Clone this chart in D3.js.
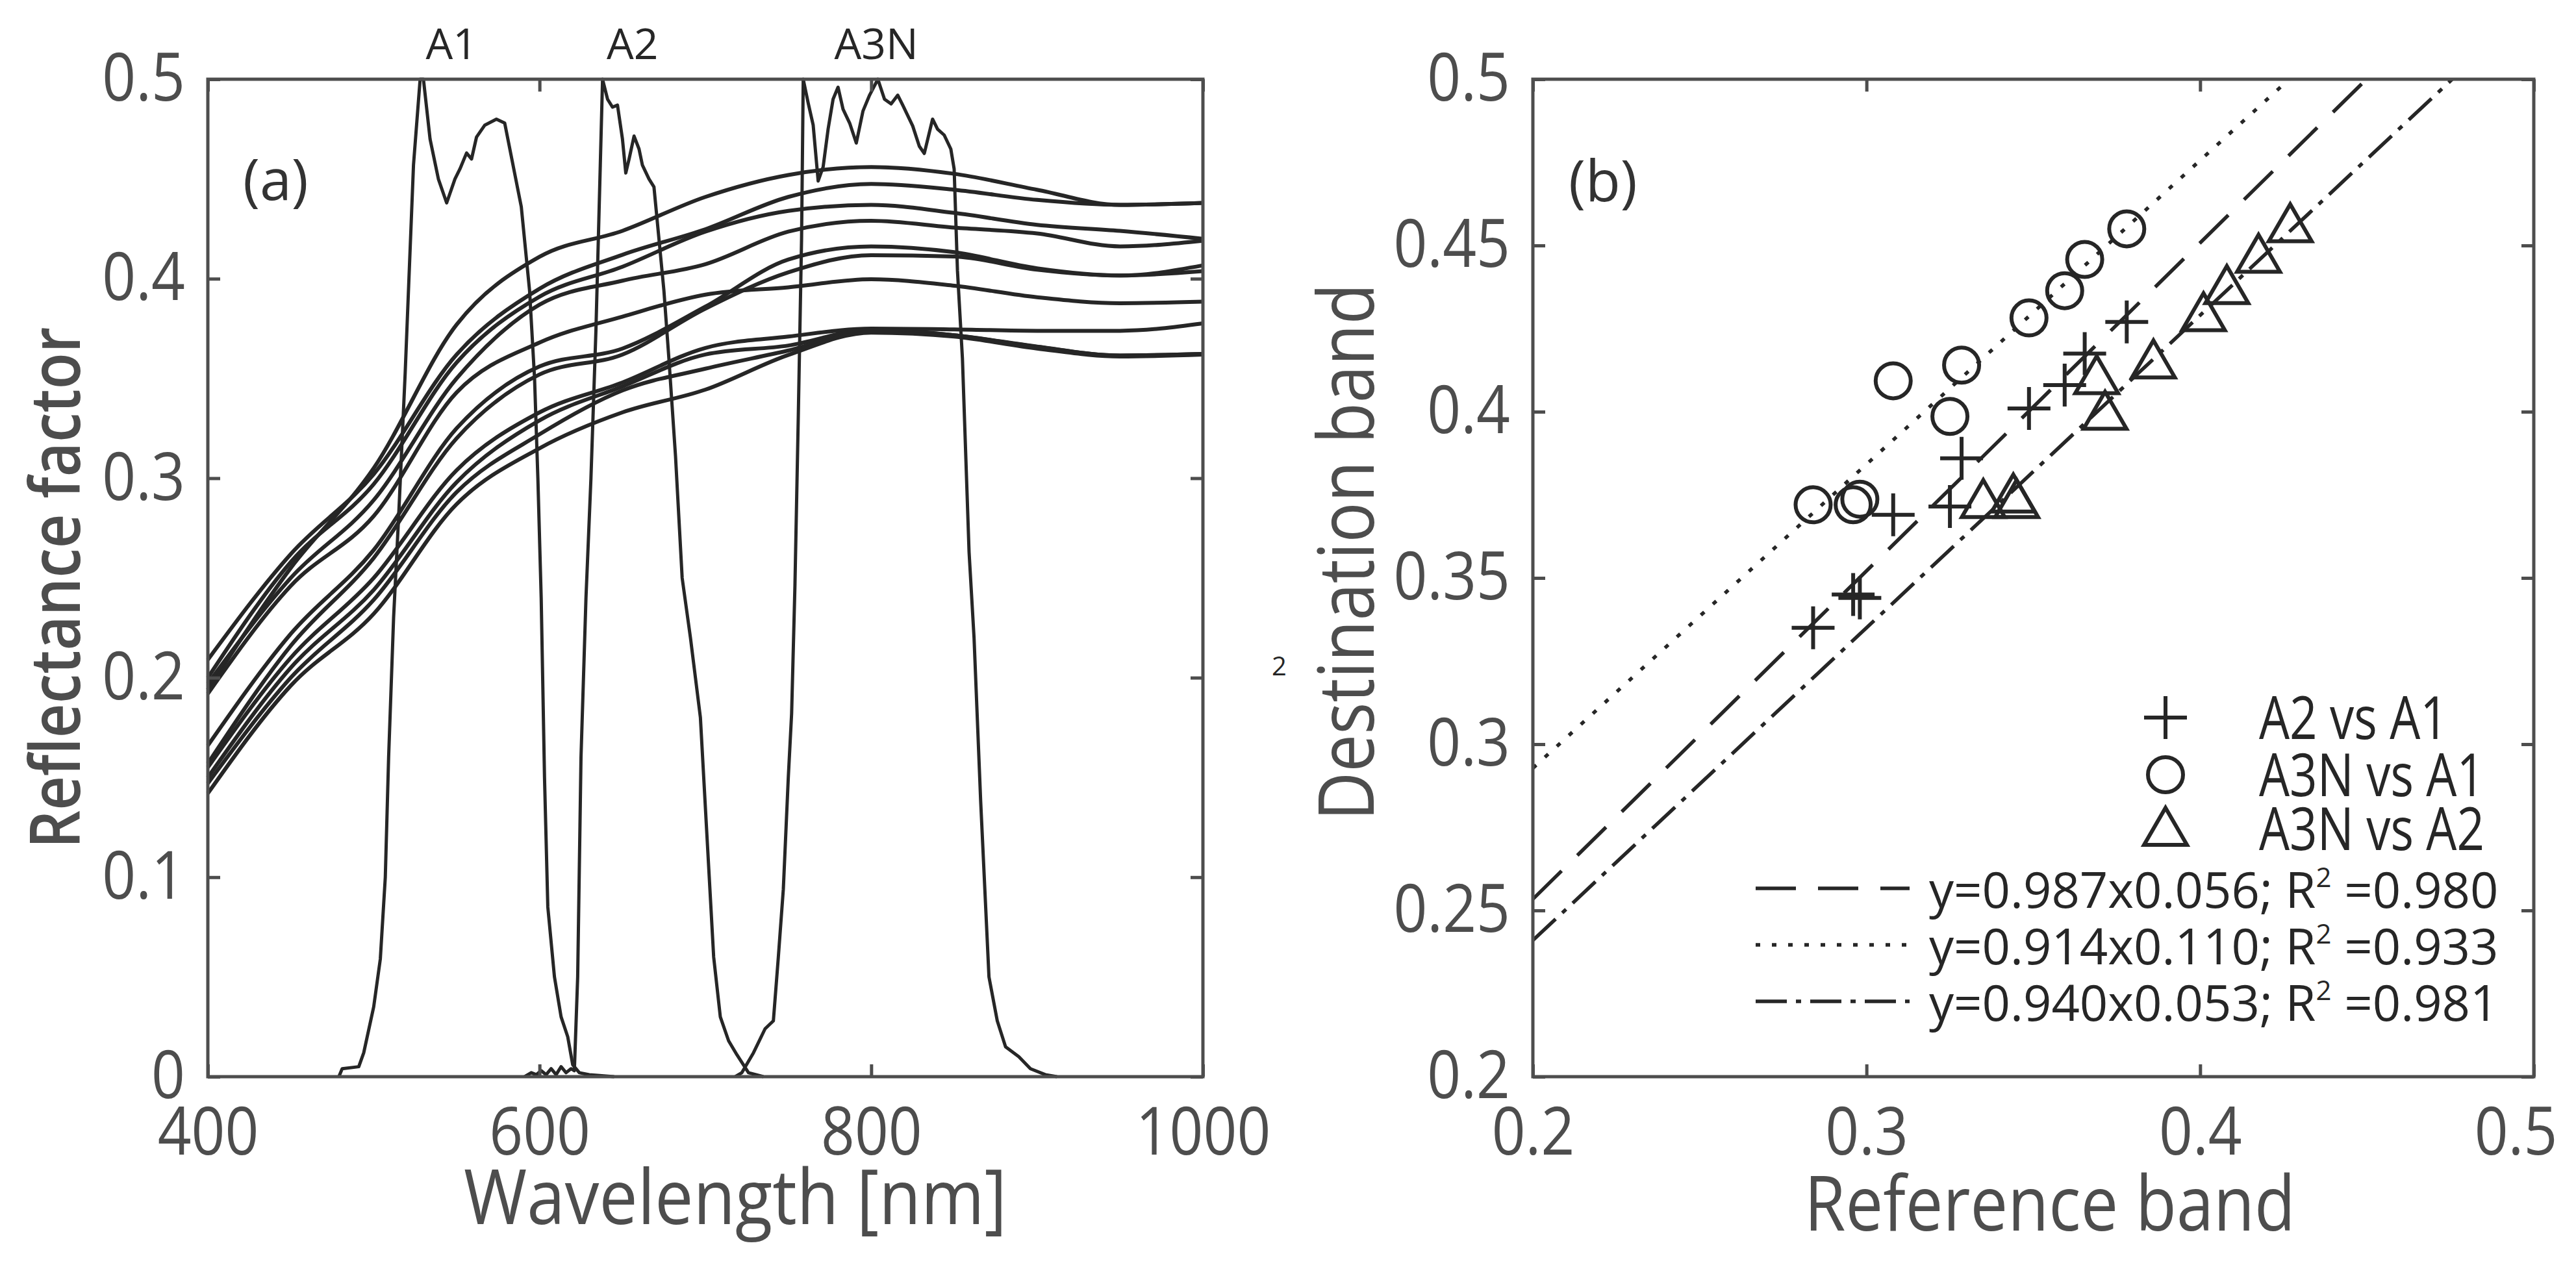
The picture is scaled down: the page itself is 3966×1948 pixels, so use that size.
<!DOCTYPE html>
<html>
<head>
<meta charset="utf-8">
<script src="https://cdn.jsdelivr.net/npm/d3@7"></script>
<style>
  body { margin: 0; background: #fff; }
  svg { display: block; }
</style>
</head>
<body>
<script>
// ---------- data ----------
// panel (a): reflectance spectra, read at these wavelengths
var wavelengths = [400, 450, 500, 550, 600, 650, 700, 750, 800, 850, 900, 950, 1000];
var spectrum01 = [0.194, 0.255, 0.305, 0.377, 0.411, 0.424, 0.441, 0.452, 0.456, 0.4526, 0.4446, 0.437, 0.438];
var spectrum02 = [0.209, 0.262, 0.302, 0.362, 0.395, 0.412, 0.4248, 0.441, 0.4475, 0.4446, 0.4395, 0.437, 0.438];
var spectrum03 = [0.200, 0.258, 0.297, 0.358, 0.391, 0.406, 0.4236, 0.434, 0.437, 0.433, 0.427, 0.424, 0.420];
var spectrum04 = [0.197, 0.250, 0.289, 0.350, 0.387, 0.399, 0.4073, 0.4236, 0.429, 0.4256, 0.4227, 0.4162, 0.419];
var spectrum05 = [0.192, 0.246, 0.281, 0.343, 0.368, 0.381, 0.392, 0.3957, 0.3997, 0.3965, 0.3907, 0.3877, 0.3885];
var spectrum06 = [0.166, 0.222, 0.264, 0.325, 0.356, 0.365, 0.386, 0.4096, 0.4162, 0.4133, 0.4052, 0.4016, 0.4067];
var spectrum07 = [0.157, 0.216, 0.260, 0.320, 0.352, 0.362, 0.385, 0.4032, 0.4118, 0.4111, 0.4045, 0.4016, 0.4038];
var spectrum08 = [0.155, 0.210, 0.250, 0.304, 0.333, 0.348, 0.3653, 0.371, 0.375, 0.3746, 0.3739, 0.3739, 0.3776];
var spectrum09 = [0.150, 0.205, 0.244, 0.298, 0.329, 0.346, 0.362, 0.3665, 0.3745, 0.3717, 0.3659, 0.3615, 0.3623];
var spectrum10 = [0.147, 0.200, 0.239, 0.293, 0.322, 0.344, 0.3549, 0.364, 0.374, 0.3717, 0.366, 0.3615, 0.3623];
var spectrum11 = [0.142, 0.196, 0.232, 0.287, 0.315, 0.333, 0.3444, 0.3618, 0.373, 0.371, 0.365, 0.361, 0.362];
var spectra = [spectrum01, spectrum02, spectrum03, spectrum04, spectrum05, spectrum06,
               spectrum07, spectrum08, spectrum09, spectrum10, spectrum11];

// spectral response of the three bands (scaled to the axis)
var bandA1Wl  = [479, 481, 491, 494, 500, 504, 507, 509, 512, 515, 519, 524, 528, 530, 534, 539, 544, 549, 552, 556,
                 559, 562, 567, 574, 579, 584, 589, 594, 597, 599, 601, 603, 605, 609, 613, 617, 620, 624, 630, 645];
var bandA1    = [0, 0.004, 0.005, 0.012, 0.035, 0.059, 0.10, 0.16, 0.23, 0.28, 0.353, 0.457, 0.5, 0.5, 0.47, 0.45, 0.438, 0.45, 0.455, 0.463,
                 0.46, 0.471, 0.477, 0.48, 0.478, 0.457, 0.436, 0.394, 0.35, 0.30, 0.24, 0.15, 0.085, 0.05, 0.03, 0.02, 0.006, 0.002, 0.001, 0];
var bandA2Wl  = [591, 595, 598, 601, 604, 607, 610, 613, 616, 619, 621, 623, 625, 628, 631, 634, 638, 641, 644, 647,
                 650, 652, 654, 657, 660, 662, 666, 669, 672, 675, 678, 682, 686, 691, 697, 701, 705, 709, 714, 719, 726, 735];
var bandA2    = [0, 0.002, 0.001, 0.003, 0.001, 0.004, 0.001, 0.005, 0.002, 0.004, 0.003, 0.05, 0.16, 0.24, 0.30, 0.374, 0.5, 0.49, 0.486, 0.487,
                 0.47, 0.453, 0.46, 0.4715, 0.465, 0.457, 0.45, 0.446, 0.42, 0.394, 0.36, 0.311, 0.25, 0.22, 0.18, 0.12, 0.06, 0.03, 0.018, 0.011, 0.002, 0];
var bandA3NWl = [718, 722, 729, 736, 741, 744, 747, 750, 752, 754, 756, 758, 759, 762, 765, 768, 771, 774, 777, 780,
                 783, 787, 791, 795, 799, 804, 808, 812, 816, 819, 825, 829, 832, 837, 840, 844, 848, 850, 852, 855,
                 859, 862, 866, 871, 876, 881, 889, 896, 905, 912];
var bandA3N   = [0, 0.002, 0.012, 0.024, 0.028, 0.06, 0.094, 0.15, 0.182, 0.246, 0.33, 0.42, 0.5, 0.488, 0.477, 0.449, 0.456, 0.475, 0.49, 0.496,
                 0.485, 0.478, 0.468, 0.484, 0.492, 0.5, 0.49, 0.4876, 0.492, 0.487, 0.4766, 0.4664, 0.4628, 0.48, 0.475, 0.472, 0.465, 0.455, 0.404, 0.36,
                 0.263, 0.22, 0.138, 0.05, 0.028, 0.015, 0.01, 0.004, 0.001, 0];
var bandNames   = ["A1", "A2", "A3N"];
var bandLabelWl = [547, 656, 803];

// panel (b): band values of the ten samples
var sampleA1  = [0.284, 0.296, 0.298, 0.308, 0.325, 0.3285, 0.3487, 0.3594, 0.3654, 0.378];
var sampleA2  = [0.335, 0.345, 0.344, 0.369, 0.3715, 0.386, 0.401, 0.408, 0.4175, 0.427];
var sampleA3N = [0.372, 0.372, 0.3737, 0.4093, 0.3986, 0.414, 0.4282, 0.4364, 0.4458, 0.455];

var fitSlope     = [0.987, 0.914, 0.940];
var fitIntercept = [0.056, 0.110, 0.053];
var fitText      = ["y=0.987x0.056; R", "y=0.914x0.110; R", "y=0.940x0.053; R"];
var fitR2        = ["0.980", "0.933", "0.981"];

var xTicksA = [400, 600, 800, 1000];
var yTicksA = [0, 0.1, 0.2, 0.3, 0.4, 0.5];
var xTicksB = [0.2, 0.3, 0.4, 0.5];
var yTicksB = [0.2, 0.25, 0.3, 0.35, 0.4, 0.45, 0.5];

// ---------- drawing ----------
var W = 3966, H = 1948;
var FONT = "'Open Sans', 'Noto Sans', sans-serif";
var AXIS = "#4d4d4d", INK = "#262626";

var svg = d3.select("body").append("svg")
    .attr("width", W)
    .attr("height", H)
    .style("font-family", FONT);

svg.append("rect").attr("width", W).attr("height", H).attr("fill", "#fff");

// squeeze a text to a fraction of its natural width (the figure font is narrow)
function condense(sel, k) {
  sel.each(function() {
    var w = this.getComputedTextLength();
    d3.select(this).attr("textLength", w * k).attr("lengthAdjust", "spacingAndGlyphs");
  });
}

function fmt(d) { return String(+d.toFixed(2)); }

// boxed axes with inward ticks on all four sides
function frame(x, y, xt, yt) {
  var l = x.range()[0], r = x.range()[1];
  var b = y.range()[0], t = y.range()[1];
  var g = svg.append("g");

  g.append("g").attr("class", "xax").attr("transform", "translate(0," + b + ")")
    .call(d3.axisBottom(x).tickValues(xt).tickFormat(fmt).tickSizeInner(-19).tickSizeOuter(0).tickPadding(48));
  g.append("g").attr("transform", "translate(0," + t + ")")
    .call(d3.axisTop(x).tickValues(xt).tickFormat("").tickSizeInner(-19).tickSizeOuter(0));
  g.append("g").attr("transform", "translate(" + l + ",0)")
    .call(d3.axisLeft(y).tickValues(yt).tickFormat(fmt).tickSizeInner(-19).tickSizeOuter(0).tickPadding(35));
  g.append("g").attr("transform", "translate(" + r + ",0)")
    .call(d3.axisRight(y).tickValues(yt).tickFormat("").tickSizeInner(-19).tickSizeOuter(0));

  g.selectAll(".domain").remove();
  g.selectAll(".tick line").attr("stroke", AXIS).attr("stroke-width", 5);
  var txt = g.selectAll(".tick text")
    .attr("fill", AXIS)
    .attr("font-size", 102)
    .attr("font-family", FONT);
  condense(txt, 0.89);

  g.append("rect")
    .attr("x", l).attr("y", t)
    .attr("width", r - l).attr("height", b - t)
    .attr("fill", "none")
    .attr("stroke", AXIS)
    .attr("stroke-width", 5);
  return g;
}

// ----- panel (a) -----
var xA = d3.scaleLinear().domain([400, 1000]).range([320, 1852]);
var yA = d3.scaleLinear().domain([0, 0.5]).range([1658, 122]);

var gA = svg.append("g");
var specLine = d3.line()
    .x(function(d, i) { return xA(wavelengths[i]); })
    .y(function(d) { return yA(d); })
    .curve(d3.curveMonotoneX);

gA.selectAll("path.spec")
  .data(spectra)
  .enter().append("path")
    .attr("class", "spec")
    .attr("d", specLine)
    .attr("fill", "none")
    .attr("stroke", INK)
    .attr("stroke-width", 6)
    .attr("stroke-linejoin", "round");

var bands = [[bandA1Wl, bandA1], [bandA2Wl, bandA2], [bandA3NWl, bandA3N]];
var bandLine = d3.line()
    .x(function(d) { return xA(d[0]); })
    .y(function(d) { return yA(d[1]); });

gA.selectAll("path.band")
  .data(bands.map(function(b) { return d3.zip(b[0], b[1]); }))
  .enter().append("path")
    .attr("class", "band")
    .attr("d", bandLine)
    .attr("fill", "none")
    .attr("stroke", INK)
    .attr("stroke-width", 5)
    .attr("stroke-linejoin", "round");

frame(xA, yA, xTicksA, yTicksA);

svg.selectAll("text.bandname")
  .data(bandNames)
  .enter().append("text")
    .attr("class", "bandname")
    .attr("x", function(d, i) { return xA(bandLabelWl[i]); })
    .attr("y", 91)
    .attr("text-anchor", "middle")
    .attr("font-size", 66)
    .attr("fill", INK)
    .text(function(d) { return d; });

svg.append("text").attr("x", 374).attr("y", 308)
  .attr("font-size", 88).attr("fill", "#333").text("(a)");

svg.append("text")
  .attr("x", 1132).attr("y", 1885)
  .attr("text-anchor", "middle")
  .attr("font-size", 118)
  .attr("fill", AXIS)
  .attr("textLength", 836).attr("lengthAdjust", "spacingAndGlyphs")
  .text("Wavelength [nm]");

svg.append("text")
  .attr("transform", "translate(123,905) rotate(-90)")
  .attr("text-anchor", "middle")
  .attr("font-size", 106)
  .attr("font-weight", 600)
  .attr("fill", AXIS)
  .attr("textLength", 803).attr("lengthAdjust", "spacingAndGlyphs")
  .text("Reflectance factor");

// stray superscript left over between the panels
svg.append("text").attr("x", 1958).attr("y", 1040)
  .attr("font-size", 40).attr("fill", INK).text("2");

// ----- panel (b) -----
var xB = d3.scaleLinear().domain([0.2, 0.5]).range([2360, 3901]);
var yB = d3.scaleLinear().domain([0.2, 0.5]).range([1658, 122]);

var dashes = ["62,34", "7,18", "48,14,8,14"];
var gB = svg.append("g");

// regression lines, from x = 0.2 up to where they reach y = 0.5
gB.selectAll("line.fit")
  .data(fitSlope)
  .enter().append("line")
    .attr("class", "fit")
    .attr("x1", xB(0.2))
    .attr("y1", function(m, i) { return yB(m * 0.2 + fitIntercept[i]); })
    .attr("x2", function(m, i) { return xB((0.5 - fitIntercept[i]) / m); })
    .attr("y2", yB(0.5))
    .attr("stroke", INK)
    .attr("stroke-width", 5.5)
    .attr("stroke-dasharray", function(d, i) { return dashes[i]; });

var plusPath = "M-33,0H33M0,-33V33";
var triPath = "M0,-38L33,19L-33,19Z";

var pairsPlus = d3.zip(sampleA1, sampleA2);
var pairsCirc = d3.zip(sampleA1, sampleA3N);
var pairsTri  = d3.zip(sampleA2, sampleA3N);

gB.selectAll("path.plus")
  .data(pairsPlus)
  .enter().append("path")
    .attr("class", "plus")
    .attr("transform", function(d) { return "translate(" + xB(d[0]) + "," + yB(d[1]) + ")"; })
    .attr("d", plusPath)
    .attr("stroke", INK).attr("stroke-width", 6).attr("fill", "none");

gB.selectAll("circle.circ")
  .data(pairsCirc)
  .enter().append("circle")
    .attr("class", "circ")
    .attr("cx", function(d) { return xB(d[0]); })
    .attr("cy", function(d) { return yB(d[1]); })
    .attr("r", 27)
    .attr("stroke", INK).attr("stroke-width", 6).attr("fill", "none");

gB.selectAll("path.tri")
  .data(pairsTri)
  .enter().append("path")
    .attr("class", "tri")
    .attr("transform", function(d) { return "translate(" + xB(d[0]) + "," + yB(d[1]) + ")"; })
    .attr("d", triPath)
    .attr("stroke", INK).attr("stroke-width", 6).attr("fill", "none")
    .attr("stroke-linejoin", "miter");

var fB = frame(xB, yB, xTicksB, yTicksB);
// the last bottom label sits a little inside the page edge, as in the figure
fB.selectAll(".xax .tick text").filter(function(d) { return d === 0.5; }).attr("dx", -28);

svg.append("text").attr("x", 2415).attr("y", 310)
  .attr("font-size", 88).attr("fill", "#333").text("(b)");

svg.append("text")
  .attr("x", 3156).attr("y", 1895)
  .attr("text-anchor", "middle")
  .attr("font-size", 118)
  .attr("fill", AXIS)
  .attr("textLength", 756).attr("lengthAdjust", "spacingAndGlyphs")
  .text("Reference band");

svg.append("text")
  .attr("transform", "translate(2115,850) rotate(-90)")
  .attr("text-anchor", "middle")
  .attr("font-size", 119)
  .attr("fill", AXIS)
  .attr("textLength", 827).attr("lengthAdjust", "spacingAndGlyphs")
  .text("Destination band");

// legend (no box)
var leg = svg.append("g");
var legMarkX = 3334, legTextX = 3478;
var legNames = ["A2 vs A1", "A3N vs A1", "A3N vs A2"];
var legRowY = [1105, 1193, 1276];

leg.append("path").attr("transform", "translate(" + legMarkX + "," + legRowY[0] + ")")
  .attr("d", plusPath).attr("stroke", INK).attr("stroke-width", 6).attr("fill", "none");
leg.append("circle").attr("cx", legMarkX).attr("cy", legRowY[1]).attr("r", 27)
  .attr("stroke", INK).attr("stroke-width", 6).attr("fill", "none");
leg.append("path").attr("transform", "translate(" + legMarkX + "," + (legRowY[2] + 6) + ")")
  .attr("d", triPath).attr("stroke", INK).attr("stroke-width", 6).attr("fill", "none");

var legTxt = leg.selectAll("text.lname")
  .data(legNames)
  .enter().append("text")
    .attr("class", "lname")
    .attr("x", legTextX)
    .attr("y", function(d, i) { return legRowY[i] + 33; })
    .attr("font-size", 92)
    .attr("fill", INK)
    .text(function(d) { return d; });
condense(legTxt, 0.81);

var fitRowY = [1368, 1455, 1542];
leg.selectAll("line.lfit")
  .data(fitSlope)
  .enter().append("line")
    .attr("x1", 2703).attr("x2", 2940)
    .attr("y1", function(d, i) { return fitRowY[i]; })
    .attr("y2", function(d, i) { return fitRowY[i]; })
    .attr("stroke", INK)
    .attr("stroke-width", 5.5)
    .attr("stroke-dasharray", function(d, i) { return dashes[i]; });

fitText.forEach(function(s, i) {
  var t = leg.append("text")
    .attr("x", 2970)
    .attr("y", fitRowY[i] + 30)
    .attr("font-size", 76)
    .attr("fill", INK);
  t.append("tspan").text(s);
  t.append("tspan").attr("font-size", 42).attr("dy", -32).text("2");
  t.append("tspan").attr("dy", 32).text(" =" + fitR2[i]);
});
</script>
</body>
</html>
